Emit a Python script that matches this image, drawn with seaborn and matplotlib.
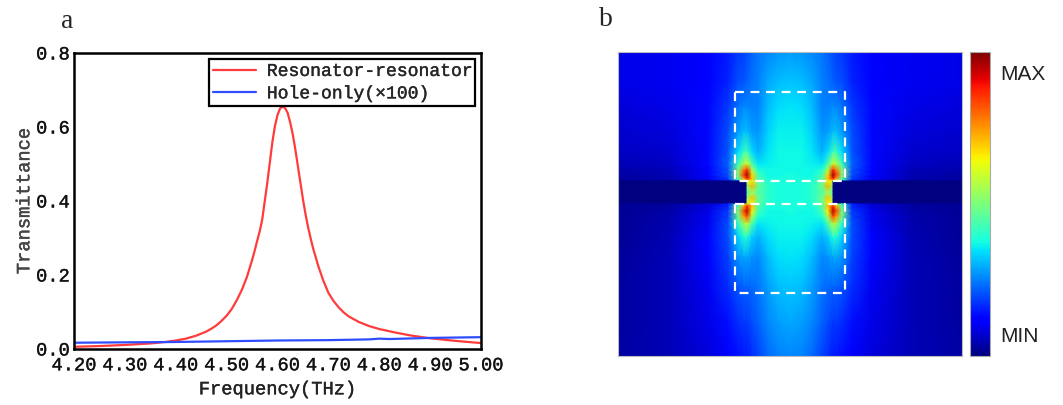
import numpy as np
import pandas as pd
import matplotlib
matplotlib.use("Agg")
import matplotlib.pyplot as plt
import matplotlib.patheffects as pe
from matplotlib.ticker import MultipleLocator
import seaborn as sns

# --- panel a data ---
freq_red = [4.20, 4.25, 4.30, 4.35, 4.38, 4.40, 4.42, 4.44, 4.46, 4.47, 4.48, 4.49,
            4.50, 4.51, 4.52, 4.53, 4.54, 4.55, 4.555, 4.56, 4.565, 4.57, 4.575, 4.58,
            4.585, 4.59, 4.595, 4.60, 4.605, 4.61, 4.615, 4.62, 4.625, 4.63, 4.635, 4.64,
            4.645, 4.65, 4.655, 4.66, 4.665, 4.67, 4.68, 4.69, 4.70, 4.71, 4.72, 4.73,
            4.74, 4.76, 4.78, 4.80, 4.83, 4.86, 4.90, 4.95, 5.00]
trans_red = [0.006, 0.008, 0.011, 0.015, 0.019, 0.023, 0.028, 0.036, 0.047, 0.055, 0.064, 0.076,
             0.090, 0.108, 0.132, 0.160, 0.195, 0.240, 0.265, 0.292, 0.318, 0.350, 0.400, 0.450,
             0.505, 0.560, 0.603, 0.632, 0.650, 0.655, 0.651, 0.638, 0.612, 0.580, 0.540, 0.495,
             0.450, 0.405, 0.365, 0.330, 0.300, 0.272, 0.225, 0.185, 0.152, 0.130, 0.113, 0.099,
             0.088, 0.073, 0.062, 0.054, 0.045, 0.037, 0.029, 0.022, 0.016]

freq_blue = [4.20, 4.30, 4.40, 4.50, 4.60, 4.70, 4.78, 4.80, 4.82, 4.90, 5.00]
trans_blue = [0.017, 0.018, 0.019, 0.021, 0.023, 0.024, 0.026, 0.028, 0.027, 0.030, 0.032]

x_ticks = [4.20, 4.30, 4.40, 4.50, 4.60, 4.70, 4.80, 4.90, 5.00]
x_labels = ["4.20", "4.30", "4.40", "4.50", "4.60", "4.70", "4.80", "4.90", "5.00"]
y_ticks = [0.0, 0.2, 0.4, 0.6, 0.8]
y_labels = ["0.0", "0.2", "0.4", "0.6", "0.8"]

# --- panel b data: field magnitude (0=min, 1=max), left half of the map ---
# columns in image pixels from the left edge to the centre line
field_x = [0, 50, 90, 110, 120, 126, 129, 129, 134, 140, 150, 160, 172]
# rows in image pixels from the top (repeated rows = edge of the slit)
field_y = [0, 30, 55, 80, 100, 112, 118, 123, 127, 129, 129, 134, 140.5, 146,
           152, 152, 154, 159, 165, 172, 185, 205, 235, 270, 304]
field_half = [
    [0.09, 0.10, 0.12, 0.15, 0.18, 0.19, 0.20, 0.20, 0.22, 0.24, 0.26, 0.27, 0.28],
    [0.09, 0.10, 0.12, 0.16, 0.20, 0.21, 0.22, 0.22, 0.24, 0.25, 0.29, 0.31, 0.32],
    [0.08, 0.09, 0.13, 0.18, 0.24, 0.26, 0.26, 0.26, 0.25, 0.25, 0.31, 0.34, 0.35],
    [0.07, 0.08, 0.13, 0.20, 0.28, 0.31, 0.31, 0.31, 0.28, 0.27, 0.33, 0.36, 0.36],
    [0.06, 0.07, 0.13, 0.21, 0.34, 0.42, 0.42, 0.42, 0.34, 0.30, 0.35, 0.37, 0.37],
    [0.05, 0.06, 0.13, 0.22, 0.42, 0.56, 0.60, 0.60, 0.44, 0.35, 0.36, 0.37, 0.37],
    [0.04, 0.05, 0.12, 0.21, 0.50, 0.78, 0.86, 0.86, 0.56, 0.39, 0.37, 0.37, 0.37],
    [0.035, 0.045, 0.11, 0.20, 0.52, 0.86, 0.98, 0.98, 0.68, 0.43, 0.37, 0.37, 0.38],
    [0.03, 0.04, 0.10, 0.18, 0.46, 0.74, 0.88, 0.88, 0.70, 0.45, 0.38, 0.38, 0.38],
    [0.03, 0.035, 0.09, 0.16, 0.38, 0.60, 0.70, 0.70, 0.66, 0.46, 0.38, 0.38, 0.38],
    [0.0, 0.0, 0.0, 0.0, 0.0, 0.0, 0.0, 0.60, 0.66, 0.46, 0.39, 0.38, 0.38],
    [0.0, 0.0, 0.0, 0.0, 0.0, 0.0, 0.0, 0.52, 0.72, 0.48, 0.40, 0.38, 0.38],
    [0.0, 0.0, 0.0, 0.0, 0.0, 0.0, 0.0, 0.44, 0.54, 0.45, 0.40, 0.38, 0.38],
    [0.0, 0.0, 0.0, 0.0, 0.0, 0.0, 0.0, 0.52, 0.70, 0.48, 0.40, 0.38, 0.38],
    [0.0, 0.0, 0.0, 0.0, 0.0, 0.0, 0.0, 0.60, 0.66, 0.46, 0.39, 0.38, 0.38],
    [0.02, 0.03, 0.07, 0.15, 0.38, 0.60, 0.70, 0.70, 0.66, 0.46, 0.38, 0.38, 0.38],
    [0.02, 0.03, 0.08, 0.16, 0.44, 0.72, 0.86, 0.86, 0.70, 0.45, 0.38, 0.38, 0.38],
    [0.02, 0.035, 0.09, 0.18, 0.50, 0.84, 0.96, 0.96, 0.66, 0.43, 0.37, 0.37, 0.38],
    [0.02, 0.04, 0.10, 0.19, 0.48, 0.74, 0.82, 0.82, 0.55, 0.39, 0.37, 0.37, 0.37],
    [0.02, 0.04, 0.10, 0.20, 0.40, 0.54, 0.58, 0.58, 0.44, 0.35, 0.36, 0.37, 0.37],
    [0.02, 0.045, 0.11, 0.20, 0.33, 0.39, 0.39, 0.39, 0.33, 0.30, 0.34, 0.36, 0.36],
    [0.025, 0.05, 0.11, 0.19, 0.27, 0.29, 0.29, 0.29, 0.27, 0.26, 0.31, 0.34, 0.35],
    [0.03, 0.05, 0.10, 0.17, 0.21, 0.22, 0.22, 0.22, 0.23, 0.24, 0.28, 0.31, 0.32],
    [0.03, 0.05, 0.09, 0.14, 0.17, 0.18, 0.18, 0.18, 0.20, 0.22, 0.26, 0.28, 0.29],
    [0.035, 0.05, 0.08, 0.12, 0.14, 0.15, 0.15, 0.15, 0.17, 0.19, 0.23, 0.25, 0.26],
]
map_width = 344
map_height = 304

# dashed resonator outlines (image pixels)
box_x = [117, 227]
box_upper_y = [40, 129]
box_lower_y = [152, 241]

sns.set_theme(style="white")
plt.rcParams["font.family"] = ["Liberation Mono", "DejaVu Sans"]

# a touch heavier than the plain mono face
thick = [pe.withStroke(linewidth=0.3, foreground="#333333")]

fig = plt.figure(figsize=(10.63, 4.06), dpi=100)

# ---------------- panel a ----------------
ax = fig.add_axes([0.0696, 0.1379, 0.3829, 0.7291])
sns.lineplot(x=freq_red, y=trans_red, color="#ff3b3b", linewidth=1.6,
             label="Resonator-resonator", ax=ax)
sns.lineplot(x=freq_blue, y=trans_blue, color="#2f4dff", linewidth=1.6,
             label="Hole-only(×100)", ax=ax)

ax.set_xlim(4.2, 5.0)
ax.set_ylim(0, 0.8)
ax.set_xticks(x_ticks)
ax.set_xticklabels(x_labels)
ax.set_yticks(y_ticks)
ax.set_yticklabels(y_labels)
ax.xaxis.set_minor_locator(MultipleLocator(0.05))
ax.tick_params(which="major", direction="in", length=4, width=1.3,
               labelsize=13.5, colors="#111111", pad=3)
ax.tick_params(axis="x", which="major", pad=6)
ax.tick_params(which="minor", direction="in", length=2.5, width=1.0)
ax.set_xlabel("Frequency(THz)", fontsize=13.5, color="#222222", labelpad=5)
ax.set_ylabel("Transmittance", fontsize=13.5, color="#444444", labelpad=2)
for s in ax.spines.values():
    s.set_color("black")
    s.set_linewidth(1.8)

leg = ax.legend(loc="upper right", fontsize=13, frameon=True, fancybox=False,
                edgecolor="black", framealpha=1, handlelength=2.4,
                borderaxespad=0.35, borderpad=0.2, labelspacing=0.3,
                handletextpad=0.6)
leg.get_frame().set_linewidth(1.6)

for t in ax.get_xticklabels() + ax.get_yticklabels() + leg.get_texts():
    t.set_path_effects(thick)
ax.xaxis.label.set_path_effects(thick)
ax.yaxis.label.set_path_effects([pe.withStroke(linewidth=0.3, foreground="#444444")])

fig.text(67 / 1063, 1 - 22 / 406, "a", fontsize=20, family="Liberation Serif",
         ha="center", va="center")

# ---------------- panel b ----------------
axb = fig.add_axes([0.5814, 0.1207, 0.3236, 0.7488])
half = np.array(field_half)
full = np.hstack([half, half[:, ::-1][:, 1:]])
xs = np.array(field_x, dtype=float)
x_full = np.concatenate([xs, (map_width - xs[::-1])[1:]])
X, Y = np.meshgrid(x_full, np.array(field_y, dtype=float))
mesh = axb.pcolormesh(X, Y, full, cmap="jet", shading="gouraud", vmin=0, vmax=1)

# dashed outlines
for y0, y1 in (box_upper_y, box_lower_y):
    axb.plot([box_x[0], box_x[1], box_x[1], box_x[0], box_x[0]],
             [y0, y0, y1, y1, y0], color="white", linewidth=1.6,
             linestyle=(0, (4, 3)))

axb.set_xlim(0, map_width)
axb.set_ylim(map_height, 0)
axb.set_xticks([])
axb.set_yticks([])
for s in axb.spines.values():
    s.set_color("#bbbbbb")
    s.set_linewidth(0.8)

cax = fig.add_axes([0.9125, 0.1207, 0.0188, 0.7488])
cb = fig.colorbar(mesh, cax=cax)
cb.set_ticks([])
cb.outline.set_edgecolor("#aaaaaa")
cb.outline.set_linewidth(0.8)
cax.text(1.5, 0.928, "MAX", transform=cax.transAxes, fontsize=15,
         family="Liberation Sans", ha="left", va="center", color="#222222")
cax.text(1.5, 0.069, "MIN", transform=cax.transAxes, fontsize=15,
         family="Liberation Sans", ha="left", va="center", color="#222222")

fig.text(606 / 1063, 1 - 19 / 406, "b", fontsize=20, family="Liberation Serif",
         ha="center", va="center")

fig.savefig("out.png", dpi=100)
